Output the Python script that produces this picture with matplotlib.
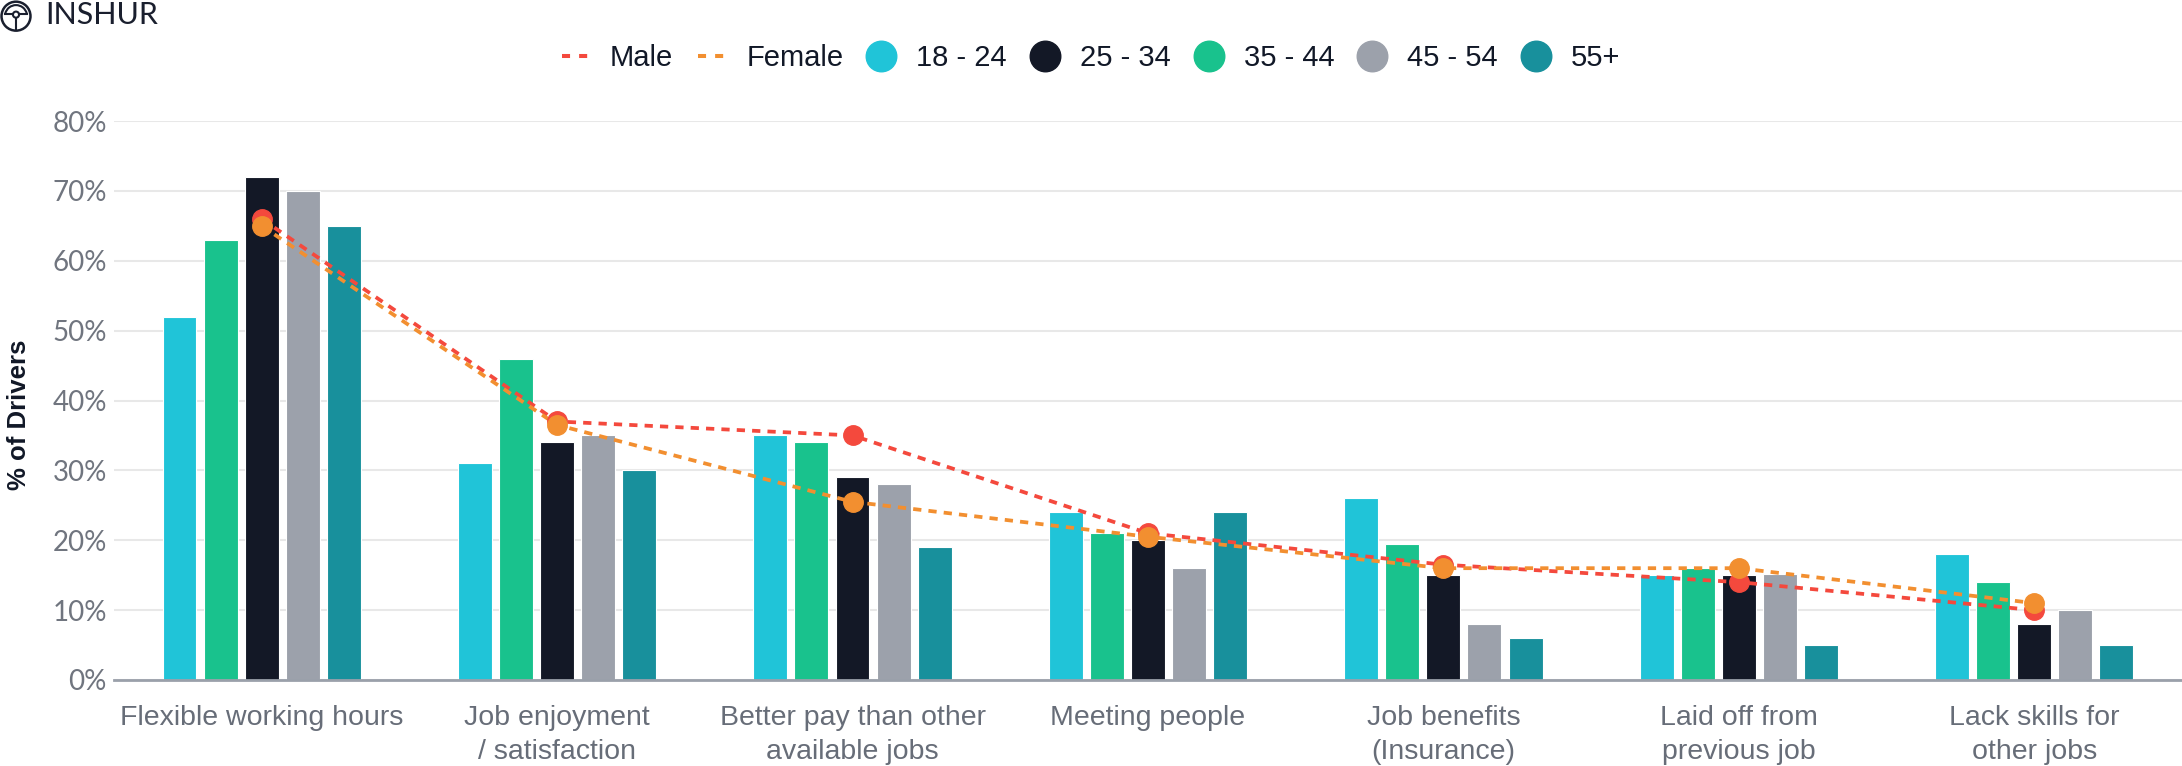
import numpy as np
import matplotlib
matplotlib.use("Agg")
import matplotlib.pyplot as plt
from matplotlib.lines import Line2D
from matplotlib.patches import Circle, Arc

categories = ["Flexible working hours", "Job enjoyment\n/ satisfaction",
              "Better pay than other\navailable jobs", "Meeting people",
              "Job benefits\n(Insurance)", "Laid off from\nprevious job",
              "Lack skills for\nother jobs"]
age_18_24 = [52, 31, 35, 24, 26, 15, 18]
age_25_34 = [72, 34, 29, 20, 15, 15, 8]
age_35_44 = [63, 46, 34, 21, 19.5, 16, 14]
age_45_54 = [70, 35, 28, 16, 8, 15.2, 10]
age_55_plus = [65, 30, 19, 24, 6, 5, 5]
male = [66, 37, 35, 21, 16.5, 14, 10]
female = [65, 36.5, 25.5, 20.5, 16, 16, 11]
yticks = [0, 10, 20, 30, 40, 50, 60, 70, 80]

c_cyan, c_black, c_green, c_gray, c_teal = "#20c4d8", "#131826", "#19c28d", "#9ca1ab", "#18909c"
c_male, c_female = "#f4493d", "#f28f30"
sans = ["Liberation Sans", "DejaVu Sans"]

fig = plt.figure(figsize=(21.82, 7.66), dpi=100)
ax = fig.add_axes([0.0522, 0.1123, 0.9478, 0.7297])
ax.set_xlim(-0.5, 6.5)
ax.set_ylim(0, 80)

x = np.arange(len(categories))
pitch, bw = 0.139, 0.115
# bar order as drawn in the reference
order = [(age_18_24, c_cyan), (age_35_44, c_green), (age_25_34, c_black),
         (age_45_54, c_gray), (age_55_plus, c_teal)]
for i, (vals, col) in enumerate(order):
    ax.bar(x + (i - 2) * pitch, vals, width=bw, color=col,
           edgecolor="#ffffff", linewidth=0.8, zorder=2)

for vals, col in [(male, c_male), (female, c_female)]:
    ax.plot(x, vals, color=col, linewidth=2.7, linestyle=(0, (2.2, 1.9)),
            dash_capstyle="butt", zorder=4)
    ax.plot(x, vals, "o", color=col, markersize=14, zorder=5, linestyle="none")

ax.set_yticks(yticks)
ax.set_yticklabels([f"{v}%" for v in yticks], fontfamily=["Lato", "DejaVu Sans"],
                   fontsize=20, color="#70757f")
ax.set_xticks(x)
ax.set_xticklabels(categories, fontfamily=sans, fontsize=20.5, color="#676d78",
                   linespacing=1.38, va="top")
ax.tick_params(axis="both", length=0)
ax.tick_params(axis="x", pad=18)
ax.tick_params(axis="y", pad=5)
ax.grid(axis="y", color="#e8e8e8", linewidth=1.5, zorder=0)
ax.set_axisbelow(True)
for s in ["top", "right", "left"]:
    ax.spines[s].set_visible(False)
ax.spines["bottom"].set_color("#9aa0aa")
ax.spines["bottom"].set_linewidth(2)
ax.spines["bottom"].set_zorder(3)

fig.text(0.0085, 0.458, "% of Drivers", rotation=90, ha="center", va="center",
         fontfamily=sans, fontweight="bold", fontsize=18.5, color="#111827")

handles = [
    Line2D([], [], color=c_male, linewidth=2.9, linestyle=(0, (2.0, 2.25))),
    Line2D([], [], color=c_female, linewidth=2.9, linestyle=(0, (2.0, 2.25))),
]
labels = ["Male", "Female", "18 - 24", "25 - 34", "35 - 44", "45 - 54", "55+"]
for col in [c_cyan, c_black, c_green, c_gray, c_teal]:
    handles.append(Line2D([], [], marker="o", linestyle="none", color=col, markersize=22))
leg = fig.legend(handles, labels, loc="center", bbox_to_anchor=(0.5, 0.924), ncol=7,
                 frameon=False, handlelength=0.9, handletextpad=0.75, columnspacing=0.85,
                 prop={"family": sans, "size": 21})
for t in leg.get_texts():
    t.set_color("#111827")

# logo
lax = fig.add_axes([0.0, 0.958, 0.01467, 0.0418])
lax.set_xlim(-1.05, 1.05)
lax.set_ylim(-1.05, 1.05)
lax.axis("off")
ink = "#1a1f2e"
lax.add_patch(Circle((0, 0), 0.95, fill=False, edgecolor=ink, linewidth=1.8))
lax.add_patch(Arc((0, 0), 1.45, 1.45, theta1=15, theta2=165, edgecolor=ink, linewidth=1.5))
lax.plot([-0.7, -0.22], [0.12, 0.12], color=ink, linewidth=1.5)
lax.plot([0.22, 0.7], [0.12, 0.12], color=ink, linewidth=1.5)
lax.add_patch(Circle((0, 0.1), 0.2, fill=False, edgecolor=ink, linewidth=1.5))
lax.plot([0, 0], [-0.12, -0.92], color=ink, linewidth=1.5)
fig.text(0.0206, 0.98, "INSHUR", ha="left", va="center",
         fontfamily=["Lato", "DejaVu Sans"], fontsize=22, color=ink)

fig.savefig("out.png", dpi=100)
